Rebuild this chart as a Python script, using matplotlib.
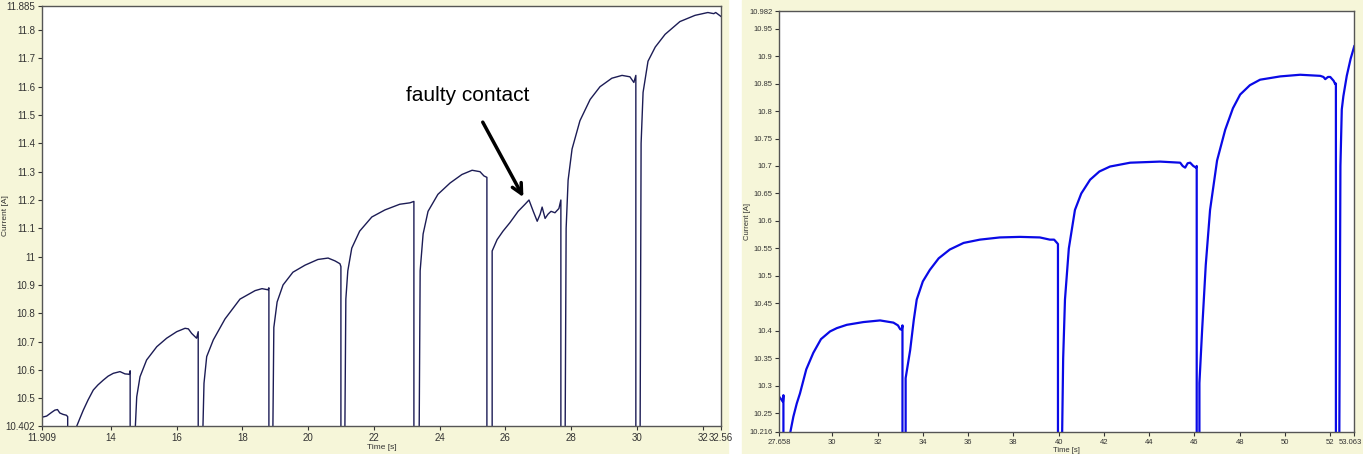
import matplotlib
matplotlib.use('Agg')
import matplotlib.pyplot as plt
from matplotlib.patches import Rectangle
from matplotlib.transforms import ScaledTranslation

plt.rcParams['font.family'] = ['Liberation Sans Narrow', 'Liberation Sans', 'DejaVu Sans']

# left recording: time [s] and current [A], one list per charge step
left_t = [
    [11.909, 12.05, 12.2, 12.3, 12.38, 12.45, 12.55, 12.65, 12.69, 12.69],
    [12.96, 13.065, 13.165, 13.31, 13.469, 13.61, 13.773, 13.92, 14.077, 14.281, 14.433, 14.534, 14.564, 14.59, 14.59],
    [14.74, 14.79, 14.89, 15.09, 15.40, 15.70, 16.006, 16.26, 16.36, 16.46, 16.61, 16.66, 16.66],
    [16.80, 16.836, 16.918, 17.119, 17.475, 17.93, 18.39, 18.60, 18.78, 18.81, 18.81],
    [18.93, 18.96, 19.06, 19.24, 19.54, 19.91, 20.30, 20.61, 20.82, 20.97, 21.0, 21.0],
    [21.12, 21.15, 21.21, 21.33, 21.57, 21.94, 22.34, 22.79, 23.10, 23.22, 23.22],
    [23.38, 23.41, 23.50, 23.65, 23.95, 24.32, 24.68, 24.99, 25.23, 25.35, 25.44, 25.44],
    [25.60, 25.60, 25.75, 25.93, 26.14, 26.39, 26.60, 26.72, 26.85, 26.97, 27.06, 27.12, 27.21, 27.30,
     27.39, 27.51, 27.63, 27.69, 27.69],
    [27.82, 27.85, 27.91, 28.03, 28.27, 28.58, 28.88, 29.24, 29.55, 29.79, 29.91, 29.97, 29.97],
    [30.10, 30.13, 30.19, 30.34, 30.56, 30.86, 31.31, 31.77, 32.16, 32.34, 32.40, 32.56],
]
left_i = [
    [10.433, 10.437, 10.45, 10.458, 10.46, 10.448, 10.443, 10.44, 10.435, 10.0],
    [10.40, 10.43, 10.458, 10.494, 10.529, 10.547, 10.564, 10.578, 10.588, 10.594, 10.586, 10.585, 10.584, 10.597, 10.0],
    [10.38, 10.505, 10.576, 10.635, 10.682, 10.712, 10.735, 10.747, 10.745, 10.729, 10.712, 10.735, 10.0],
    [10.38, 10.553, 10.647, 10.706, 10.78, 10.85, 10.88, 10.887, 10.883, 10.89, 10.0],
    [10.38, 10.75, 10.84, 10.90, 10.945, 10.97, 10.99, 10.995, 10.985, 10.975, 10.965, 10.0],
    [10.38, 10.85, 10.95, 11.03, 11.09, 11.14, 11.165, 11.185, 11.19, 11.195, 10.0],
    [10.38, 10.95, 11.08, 11.16, 11.22, 11.26, 11.29, 11.305, 11.30, 11.285, 11.28, 10.0],
    [10.0, 11.02, 11.06, 11.09, 11.12, 11.16, 11.185, 11.20, 11.16, 11.125, 11.15, 11.175, 11.135, 11.15,
     11.16, 11.155, 11.17, 11.20, 10.0],
    [10.38, 11.10, 11.27, 11.38, 11.48, 11.555, 11.60, 11.63, 11.64, 11.635, 11.615, 11.64, 10.0],
    [10.38, 11.40, 11.58, 11.69, 11.74, 11.785, 11.83, 11.852, 11.862, 11.858, 11.862, 11.848],
]

# right recording
right_t = [
    [27.658, 27.75, 27.82, 27.84, 27.84],
    [28.07, 28.28, 28.43, 28.57, 28.85, 29.16, 29.5, 29.90, 30.2, 30.64, 31.37, 32.11, 32.70, 32.9, 33.0,
     33.07, 33.10, 33.10],
    [33.24, 33.24, 33.44, 33.6, 33.73, 34.0, 34.31, 34.7, 35.19, 35.8, 36.52, 37.40, 38.29, 39.17, 39.61,
     39.8, 39.93, 39.97, 39.97],
    [40.15, 40.2, 40.28, 40.45, 40.72, 41.0, 41.39, 41.8, 42.27, 43.16, 44.48, 45.37, 45.48, 45.59, 45.7,
     45.81, 45.95, 46.07, 46.10, 46.10],
    [46.22, 46.22, 46.34, 46.5, 46.69, 47.0, 47.36, 47.7, 48.02, 48.45, 48.90, 49.79, 50.67, 51.56, 51.7,
     51.78, 51.9, 52.0, 52.15, 52.22, 52.25, 52.25],
    [52.40, 52.45, 52.51, 52.58, 52.73, 52.9, 53.063],
]
right_i = [
    [10.280, 10.275, 10.271, 10.283, 10.0],
    [10.20, 10.244, 10.268, 10.286, 10.33, 10.36, 10.385, 10.399, 10.405, 10.411, 10.416, 10.419, 10.415,
     10.41, 10.403, 10.402, 10.41, 10.0],
    [10.0, 10.314, 10.365, 10.42, 10.457, 10.49, 10.511, 10.532, 10.548, 10.56, 10.566, 10.570, 10.571,
     10.570, 10.566, 10.566, 10.56, 10.558, 10.0],
    [10.20, 10.35, 10.457, 10.55, 10.62, 10.65, 10.675, 10.69, 10.699, 10.706, 10.708, 10.706, 10.70,
     10.697, 10.705, 10.706, 10.70, 10.697, 10.70, 10.0],
    [10.0, 10.305, 10.402, 10.52, 10.62, 10.71, 10.766, 10.805, 10.83, 10.847, 10.857, 10.863, 10.866,
     10.864, 10.862, 10.858, 10.862, 10.862, 10.855, 10.849, 10.85, 10.0],
    [10.20, 10.70, 10.803, 10.827, 10.864, 10.895, 10.918],
]

left_xticks = [11.909, 14, 16, 18, 20, 22, 24, 26, 28, 30, 32, 32.56]
left_xlabels = ['11.909', '14', '16', '18', '20', '22', '24', '26', '28', '30', '32', '32.56']
left_yticks = [10.402, 10.5, 10.6, 10.7, 10.8, 10.9, 11, 11.1, 11.2, 11.3, 11.4, 11.5, 11.6, 11.7, 11.8, 11.885]
left_ylabels = ['10.402', '10.5', '10.6', '10.7', '10.8', '10.9', '11', '11.1', '11.2', '11.3', '11.4',
                '11.5', '11.6', '11.7', '11.8', '11.885']
right_xticks = [27.658, 30, 32, 34, 36, 38, 40, 42, 44, 46, 48, 50, 52, 53.063]
right_xlabels = ['27.658', '30', '32', '34', '36', '38', '40', '42', '44', '46', '48', '50', '52', '53.063']
right_yticks = [10.216, 10.25, 10.3, 10.35, 10.4, 10.45, 10.5, 10.55, 10.6, 10.65, 10.7, 10.75, 10.8,
                10.85, 10.9, 10.95, 10.982]
right_ylabels = ['10.216', '10.25', '10.3', '10.35', '10.4', '10.45', '10.5', '10.55', '10.6', '10.65',
                 '10.7', '10.75', '10.8', '10.85', '10.9', '10.95', '10.982']

bg = '#f6f6d9'
fig = plt.figure(figsize=(13.63, 4.54), dpi=100, facecolor='white')
fig.patches.append(Rectangle((0, 0), 728 / 1363, 1, transform=fig.transFigure, color=bg, zorder=-5))
fig.patches.append(Rectangle((742 / 1363, 0), 621 / 1363, 1, transform=fig.transFigure, color=bg, zorder=-5))


def style(ax, xt, xl, yt, yl, fs):
    ax.set_xticks(xt)
    ax.set_xticklabels(xl)
    ax.set_yticks(yt)
    ax.set_yticklabels(yl)
    ax.tick_params(labelsize=fs, length=3, width=0.8, color='#333333', pad=2, labelcolor='#333333')
    for s in ax.spines.values():
        s.set_color('#555555')
        s.set_linewidth(1.0)
    ax.set_facecolor('white')


ax1 = fig.add_axes([42 / 1363, 28 / 454, 679 / 1363, 420 / 454])
for t, i in zip(left_t, left_i):
    ax1.plot(t, i, color='#1c1c55', lw=1.0)
ax1.set_xlim(11.909, 32.56)
ax1.set_ylim(10.402, 11.885)
style(ax1, left_xticks, left_xlabels, left_yticks, left_ylabels, 7)
ax1.set_xlabel('Time [s]', fontsize=6, labelpad=1, color='#333333')
ax1.set_ylabel('Current [A]', fontsize=6, color='#333333')
ax1.yaxis.set_label_coords(-0.048, 0.5)
ax1.annotate('faulty contact', xy=(26.55, 11.21), xytext=(24.87, 11.57),
             fontsize=15, ha='center', va='center', family=['Liberation Sans', 'DejaVu Sans'],
             arrowprops=dict(arrowstyle='->', color='black', lw=2.5, mutation_scale=18,
                             shrinkA=12, shrinkB=0))

ax2 = fig.add_axes([779.3 / 1363, 22 / 454, 575 / 1363, 421 / 454])
for t, i in zip(right_t, right_i):
    ax2.plot(t, i, color='#0a0ae6', lw=1.6)
ax2.set_xlim(27.658, 53.063)
ax2.set_ylim(10.216, 10.982)
style(ax2, right_xticks, right_xlabels, right_yticks, right_ylabels, 5.5)
ax2.set_xlabel('Time [s]', fontsize=5.5, labelpad=1, color='#333333')
ax2.set_ylabel('Current [A]', fontsize=5.5, color='#333333')
ax2.yaxis.set_label_coords(-0.05, 0.5)
last = ax2.get_xticklabels()[-1]
last.set_transform(last.get_transform() + ScaledTranslation(-3 / 72, 0, fig.dpi_scale_trans))

fig.savefig('out.png', dpi=100, facecolor=fig.get_facecolor())
